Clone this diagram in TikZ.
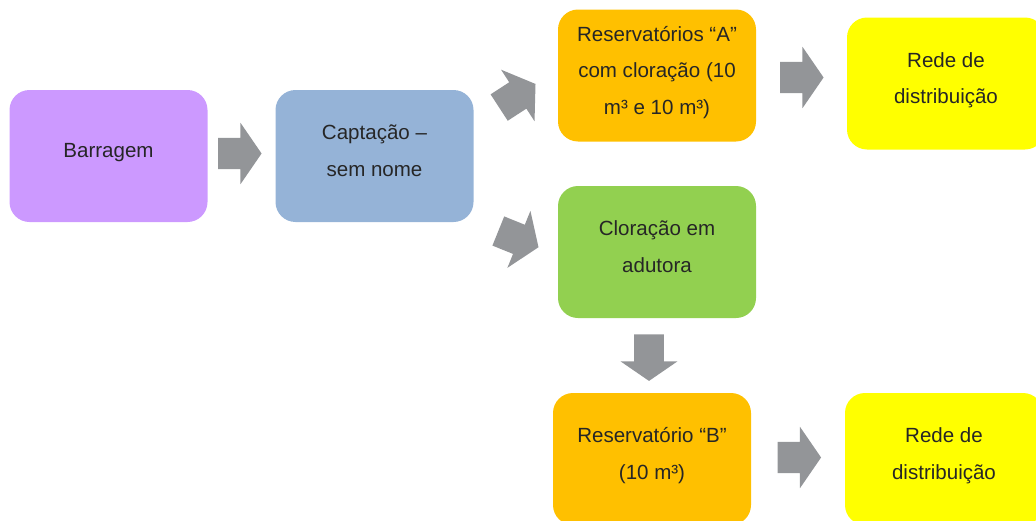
\documentclass[tikz,border=0pt]{standalone}
\usepackage{fontspec}
\setmainfont{Liberation Sans}
\usetikzlibrary{positioning,shapes.arrows}
\definecolor{damcol}{HTML}{CC99FF}
\definecolor{capcol}{HTML}{95B3D7}
\definecolor{rescol}{HTML}{FFC000}
\definecolor{redecol}{HTML}{FFFF00}
\definecolor{clorcol}{HTML}{92D050}
\definecolor{arrcol}{HTML}{939598}
\definecolor{txtcol}{HTML}{262626}

\begin{document}
\begin{tikzpicture}[
  x=0.75pt, y=-0.75pt,
  box/.style={rectangle, fill=#1, rounded corners=15pt, text=txtcol,
              font=\fontsize{15.4pt}{27.4pt}\selectfont, align=center,
              minimum width=148.5pt, minimum height=99pt, inner sep=0pt,
              text depth=8pt},
  blockarr/.style={single arrow, fill=arrcol, draw=none,
                   inner xsep=0pt, inner ysep=11.6pt,
                   minimum height=32.5pt, minimum width=45.5pt,
                   single arrow head extend=11.25pt, single arrow tip angle=111},
]
\useasboundingbox (0,0) rectangle (1036,521);

\node[box=damcol]  (dam)   at (108.5,156) {Barragem};
\node[box=capcol]  (capt)  at (374.5,156) {Captação --\\sem nome};
\node[box=rescol]  (resA)  at (657,75.5)  {Reservatórios “A”\\com cloração (10\\m³ e 10 m³)};
\node[box=redecol] (rede1) at (946,83.5)  {Rede de\\distribuição};
\node[box=clorcol] (clor)  at (657,252)   {Cloração em\\adutora};
\node[box=rescol]  (resB)  at (652,459)   {Reservatório “B”\\(10 m³)};
\node[box=redecol] (rede2) at (944,459)   {Rede de\\distribuição};

% block arrows between the boxes
\node[blockarr]            (a1) at (234.5,153.5) {};
\node[blockarr, rotate=33]  (a2) at (512.8,98.7)  {};
\node[blockarr, rotate=-22] (a3) at (513.4,237.1) {};
\node[blockarr]            (a4) at (796.5,77.5)  {};
\node[blockarr, rotate=-90, minimum height=35pt, minimum width=42pt,
      inner ysep=10.9pt, single arrow head extend=10.1pt] (a5) at (649,352.5) {};
\node[blockarr]            (a6) at (794,457.5)   {};

\end{tikzpicture}
\end{document}
